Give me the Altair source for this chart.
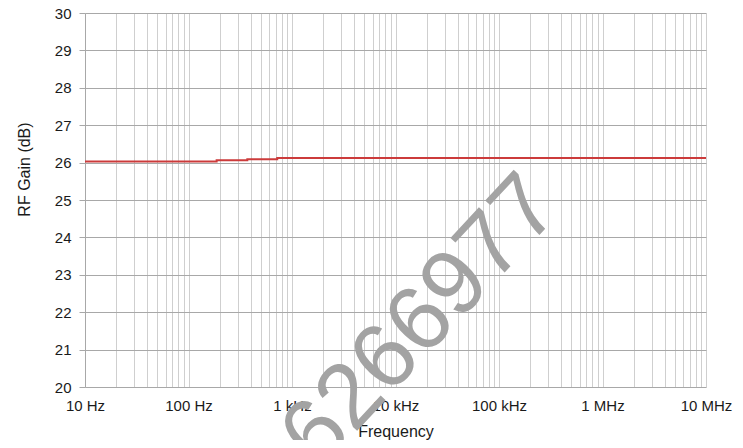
import altair as alt
import pandas as pd

# ---- data ----
freq_hz = [10, 187, 370, 720, 10000000]
gain_db = [26.03, 26.06, 26.09, 26.12, 26.12]

decade_values = [10, 100, 1000, 10000, 100000, 1000000, 10000000]
decade_labels = ["10 Hz", "100 Hz", "1 kHz", "10 kHz", "100 kHz", "1 MHz", "10 MHz"]
multipliers = [1, 2, 3, 4, 5, 6, 7, 8, 9]
y_ticks = [20, 21, 22, 23, 24, 25, 26, 27, 28, 29, 30]

watermark_text = ["6266977"]
watermark_freq = [17500]
watermark_gain = [21.75]

# ---- build tables ----
df = pd.DataFrame({"freq": freq_hz, "gain": gain_db})
wm = pd.DataFrame({"t": watermark_text, "freq": watermark_freq, "gain": watermark_gain})

x_tick_values = [m * d for d in decade_values[:-1] for m in multipliers] + [decade_values[-1]]
label_expr = " : ".join(
    f"datum.value == {v} ? '{l}'" for v, l in zip(decade_values, decade_labels)
) + " : ''"

FONT = "Liberation Sans"
FS = 15
TFS = 16

x_scale = alt.Scale(type="log", domain=[10, 10000000], nice=False)
y_scale = alt.Scale(domain=[20, 30], nice=False, zero=False)

x_axis = alt.Axis(
    values=x_tick_values,
    labelExpr=label_expr,
    grid=True,
    gridColor="#cfcfcf",
    gridWidth=1,
    ticks=False,
    tickSize=0,
    domain=False,
    labelPadding=11,
    labelFont=FONT,
    labelFontSize=FS,
    labelColor="#1a1a1a",
    labelOverlap=False,
    labelFlush=False,
    titleFont=FONT,
    titleFontSize=TFS,
    titleFontWeight="normal",
    titleColor="#1a1a1a",
    titleBaseline="alphabetic",
    titleY=49,
)
y_axis = alt.Axis(
    values=y_ticks,
    format="d",
    grid=True,
    gridColor="#a8a8a8",
    gridWidth=1,
    ticks=True,
    tickSize=6,
    tickColor="#a8a8a8",
    domain=True,
    domainColor="#a8a8a8",
    labelPadding=8,
    labelFont=FONT,
    labelFontSize=FS,
    labelColor="#1a1a1a",
    labelOverlap=False,
    titleFont=FONT,
    titleFontSize=TFS,
    titleFontWeight="normal",
    titleColor="#1a1a1a",
    titleBaseline="middle",
    titleX=-61,
    titleY=156,
)

X = alt.X("freq:Q", scale=x_scale, title="Frequency", axis=x_axis)
Y = alt.Y("gain:Q", scale=y_scale, title="RF Gain (dB)", axis=y_axis)

line = alt.Chart(df).mark_line(
    interpolate="step-after", color="#cc3b3b", strokeWidth=2
).encode(x=X, y=Y)

watermark = alt.Chart(wm).mark_text(
    font=FONT,
    fontSize=92,
    angle=313,
    align="center",
    baseline="middle",
    color="#a3a3a3",
).encode(x=X, y=Y, text="t:N")

chart = (
    alt.layer(line, watermark)
    .properties(
        width=621,
        height=374,
        autosize=alt.AutoSizeParams(type="none"),
        padding={"left": 77, "top": 5, "right": 29, "bottom": 53},
        background="white",
    )
    .configure_view(strokeWidth=0)
)

chart.save("out.html", embed_options={"renderer": "svg", "actions": False})
